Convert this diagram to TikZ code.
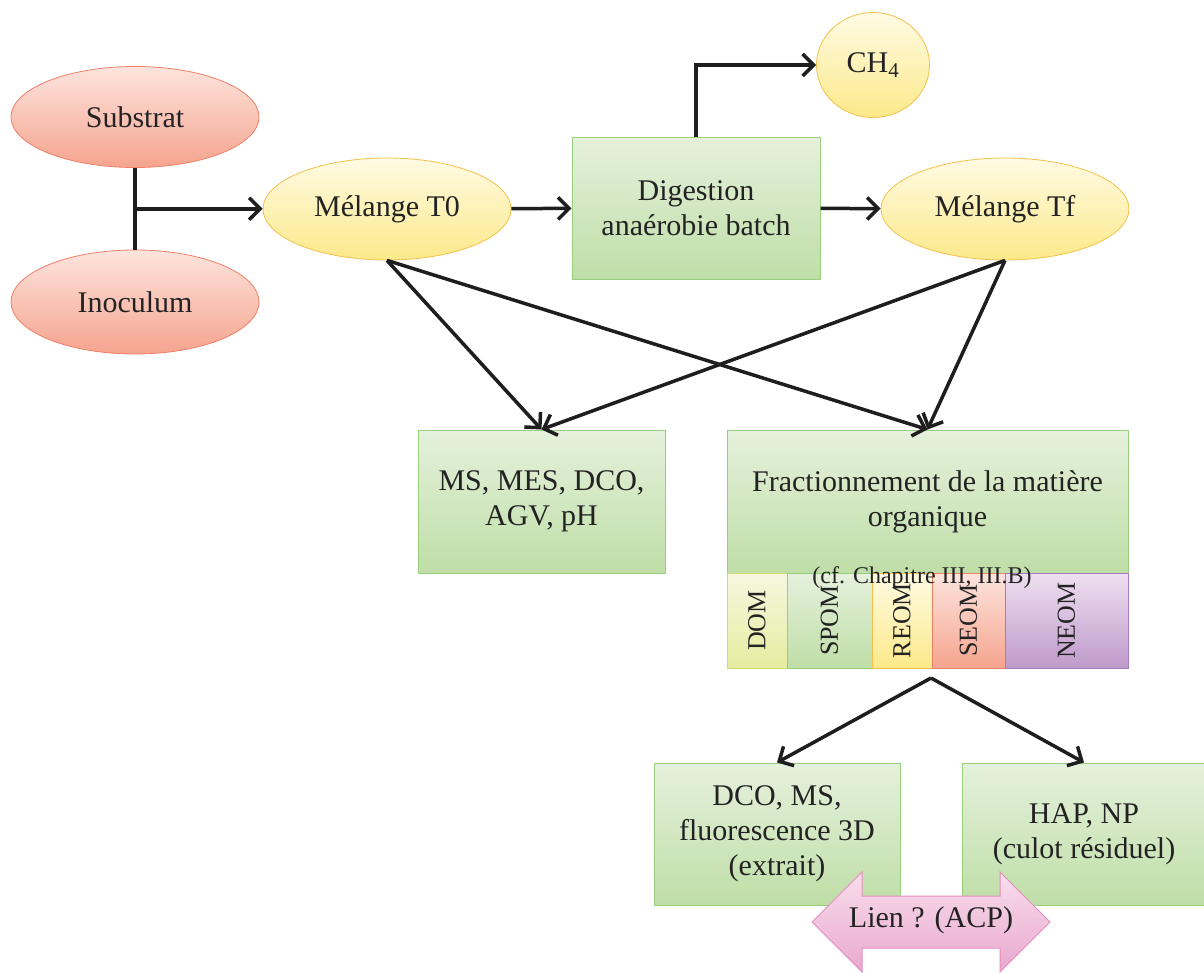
\documentclass[tikz,border=0pt]{standalone}
\usepackage{fontspec}
\setmainfont{Liberation Serif}
\usepackage{tikz}
\usetikzlibrary{shapes.geometric,shapes.arrows,arrows.meta,positioning,calc}
\definecolor{txt}{HTML}{232323}
\definecolor{arrcol}{HTML}{1E1E1E}
\definecolor{redtop}{HTML}{FDE4DE}
\definecolor{redbot}{HTML}{F5A48E}
\definecolor{redline}{HTML}{EF8068}
\definecolor{yeltop}{HTML}{FFFBE4}
\definecolor{yelbot}{HTML}{FCE98A}
\definecolor{yelline}{HTML}{F3C14A}
\definecolor{grtop}{HTML}{E5F1DC}
\definecolor{grbot}{HTML}{BFDEA7}
\definecolor{grline}{HTML}{97CF7E}
\definecolor{ygtop}{HTML}{F6F7DF}
\definecolor{ygbot}{HTML}{E6ECA0}
\definecolor{ygline}{HTML}{D3DC6E}
\definecolor{putop}{HTML}{EEDFF0}
\definecolor{pubot}{HTML}{BF9ACB}
\definecolor{puline}{HTML}{A57DBC}
\definecolor{pitop}{HTML}{F9DEEC}
\definecolor{pibot}{HTML}{E8A8CE}
\definecolor{piline}{HTML}{E48DBE}
\tikzset{
  base/.style={font=\fontsize{30}{35}\selectfont, text=txt, align=center, inner sep=0pt},
  redell/.style={base, ellipse, draw=redline, line width=0.8pt, top color=redtop,
                 bottom color=redbot, minimum width=248pt, minimum height=101pt},
  yelell/.style={base, ellipse, draw=yelline, line width=0.8pt, top color=yeltop,
                 bottom color=yelbot, minimum width=248pt, minimum height=102pt},
  gbox/.style={base, rectangle, draw=grline, line width=1pt, top color=grtop,
               bottom color=grbot, minimum width=248pt, minimum height=142pt},
  bar/.style={base, rectangle, rotate=90, line width=1pt, minimum width=95pt,
              font=\fontsize{26}{30}\selectfont},
  arr/.style={-{Straight Barb[length=11pt,width=22pt]}, line width=3.5pt, draw=arrcol}
}
\begin{document}
\begin{tikzpicture}[x=1pt, y=-1pt]
  \useasboundingbox (0,0) rectangle (1204,972);
  % inputs
  \node[redell] (sub) at (135,117) {Substrat};
  \node[redell, minimum height=104pt] (ino) at (135,302) {Inoculum};
  \node[yelell] (t0) at (387,209) {Mélange T0};
  \node[gbox] (dig) at (696,208) {Digestion\\anaérobie batch};
  \node[yelell] (tf) at (1005,209) {Mélange Tf};
  \node[yelell, minimum width=113pt, minimum height=105pt] (ch4) at (873,65) {CH\textsubscript{4}};
  \coordinate (j) at ($(sub.south)!0.5!(ino.north)$);
  \draw[arrcol, line width=3.5pt] (sub.south) -- (ino.north);
  \draw[arr] (j) -- (j -| t0.west);
  \draw[arr] (t0) -- (dig);
  \draw[arr] (dig) -- (tf);
  \draw[arr] (dig.north) |- (ch4.west);
  % analyses
  \node[gbox, minimum width=247pt, minimum height=143pt] (ms) at (541.5,501.5) {MS, MES, DCO,\\AGV, pH};
  \node[gbox, minimum width=401pt, minimum height=143pt] (frac) at (927.5,501.5) {Fractionnement de la matière\\organique};
  \draw[arr] (t0.south) -- (ms.north);
  \draw[arr] (t0.south) -- (frac.north);
  \draw[arr] (tf.south) -- (ms.north);
  \draw[arr] (tf.south) -- (frac.north);
  % fractions
  \node[bar, draw=ygline, top color=ygtop, bottom color=ygbot, minimum height=60pt] (dom) at (757,620.5) {DOM};
  \node[bar, draw=grline, top color=grtop, bottom color=grbot, minimum height=85pt] (spom) at (829.5,620.5) {SPOM};
  \node[bar, draw=yelline, top color=yeltop, bottom color=yelbot, minimum height=60pt] (reom) at (902,620.5) {REOM};
  \node[bar, draw=redline, top color=redtop, bottom color=redbot, minimum height=73pt] (seom) at (968.5,620.5) {SEOM};
  \node[bar, draw=puline, top color=putop, bottom color=pubot, minimum height=123pt] (neom) at (1066.5,620.5) {NEOM};
  \node[base, font=\fontsize{24}{28}\selectfont] (cf) at (922,578) {(cf. Chapitre III, III.B)};
  % extraits
  \coordinate (split) at (931,678);
  \node[gbox, minimum width=246pt] (dco) at (777,834) {DCO, MS,\\fluorescence 3D\\(extrait)};
  \node[gbox, minimum width=244pt] (hap) at (1084,834) {HAP, NP\\(culot résiduel)};
  \draw[arr] (split) -- (dco.north);
  \draw[arr] (split) -- (hap.north);
  \node[base, double arrow, draw=piline, line width=1pt, top color=pitop, bottom color=pibot,
        double arrow head extend=24pt, minimum height=238pt, inner ysep=13pt,
        text height=18pt, text depth=7pt] (lien) at (931,922) {Lien ? (ACP)};
\end{tikzpicture}
\end{document}
